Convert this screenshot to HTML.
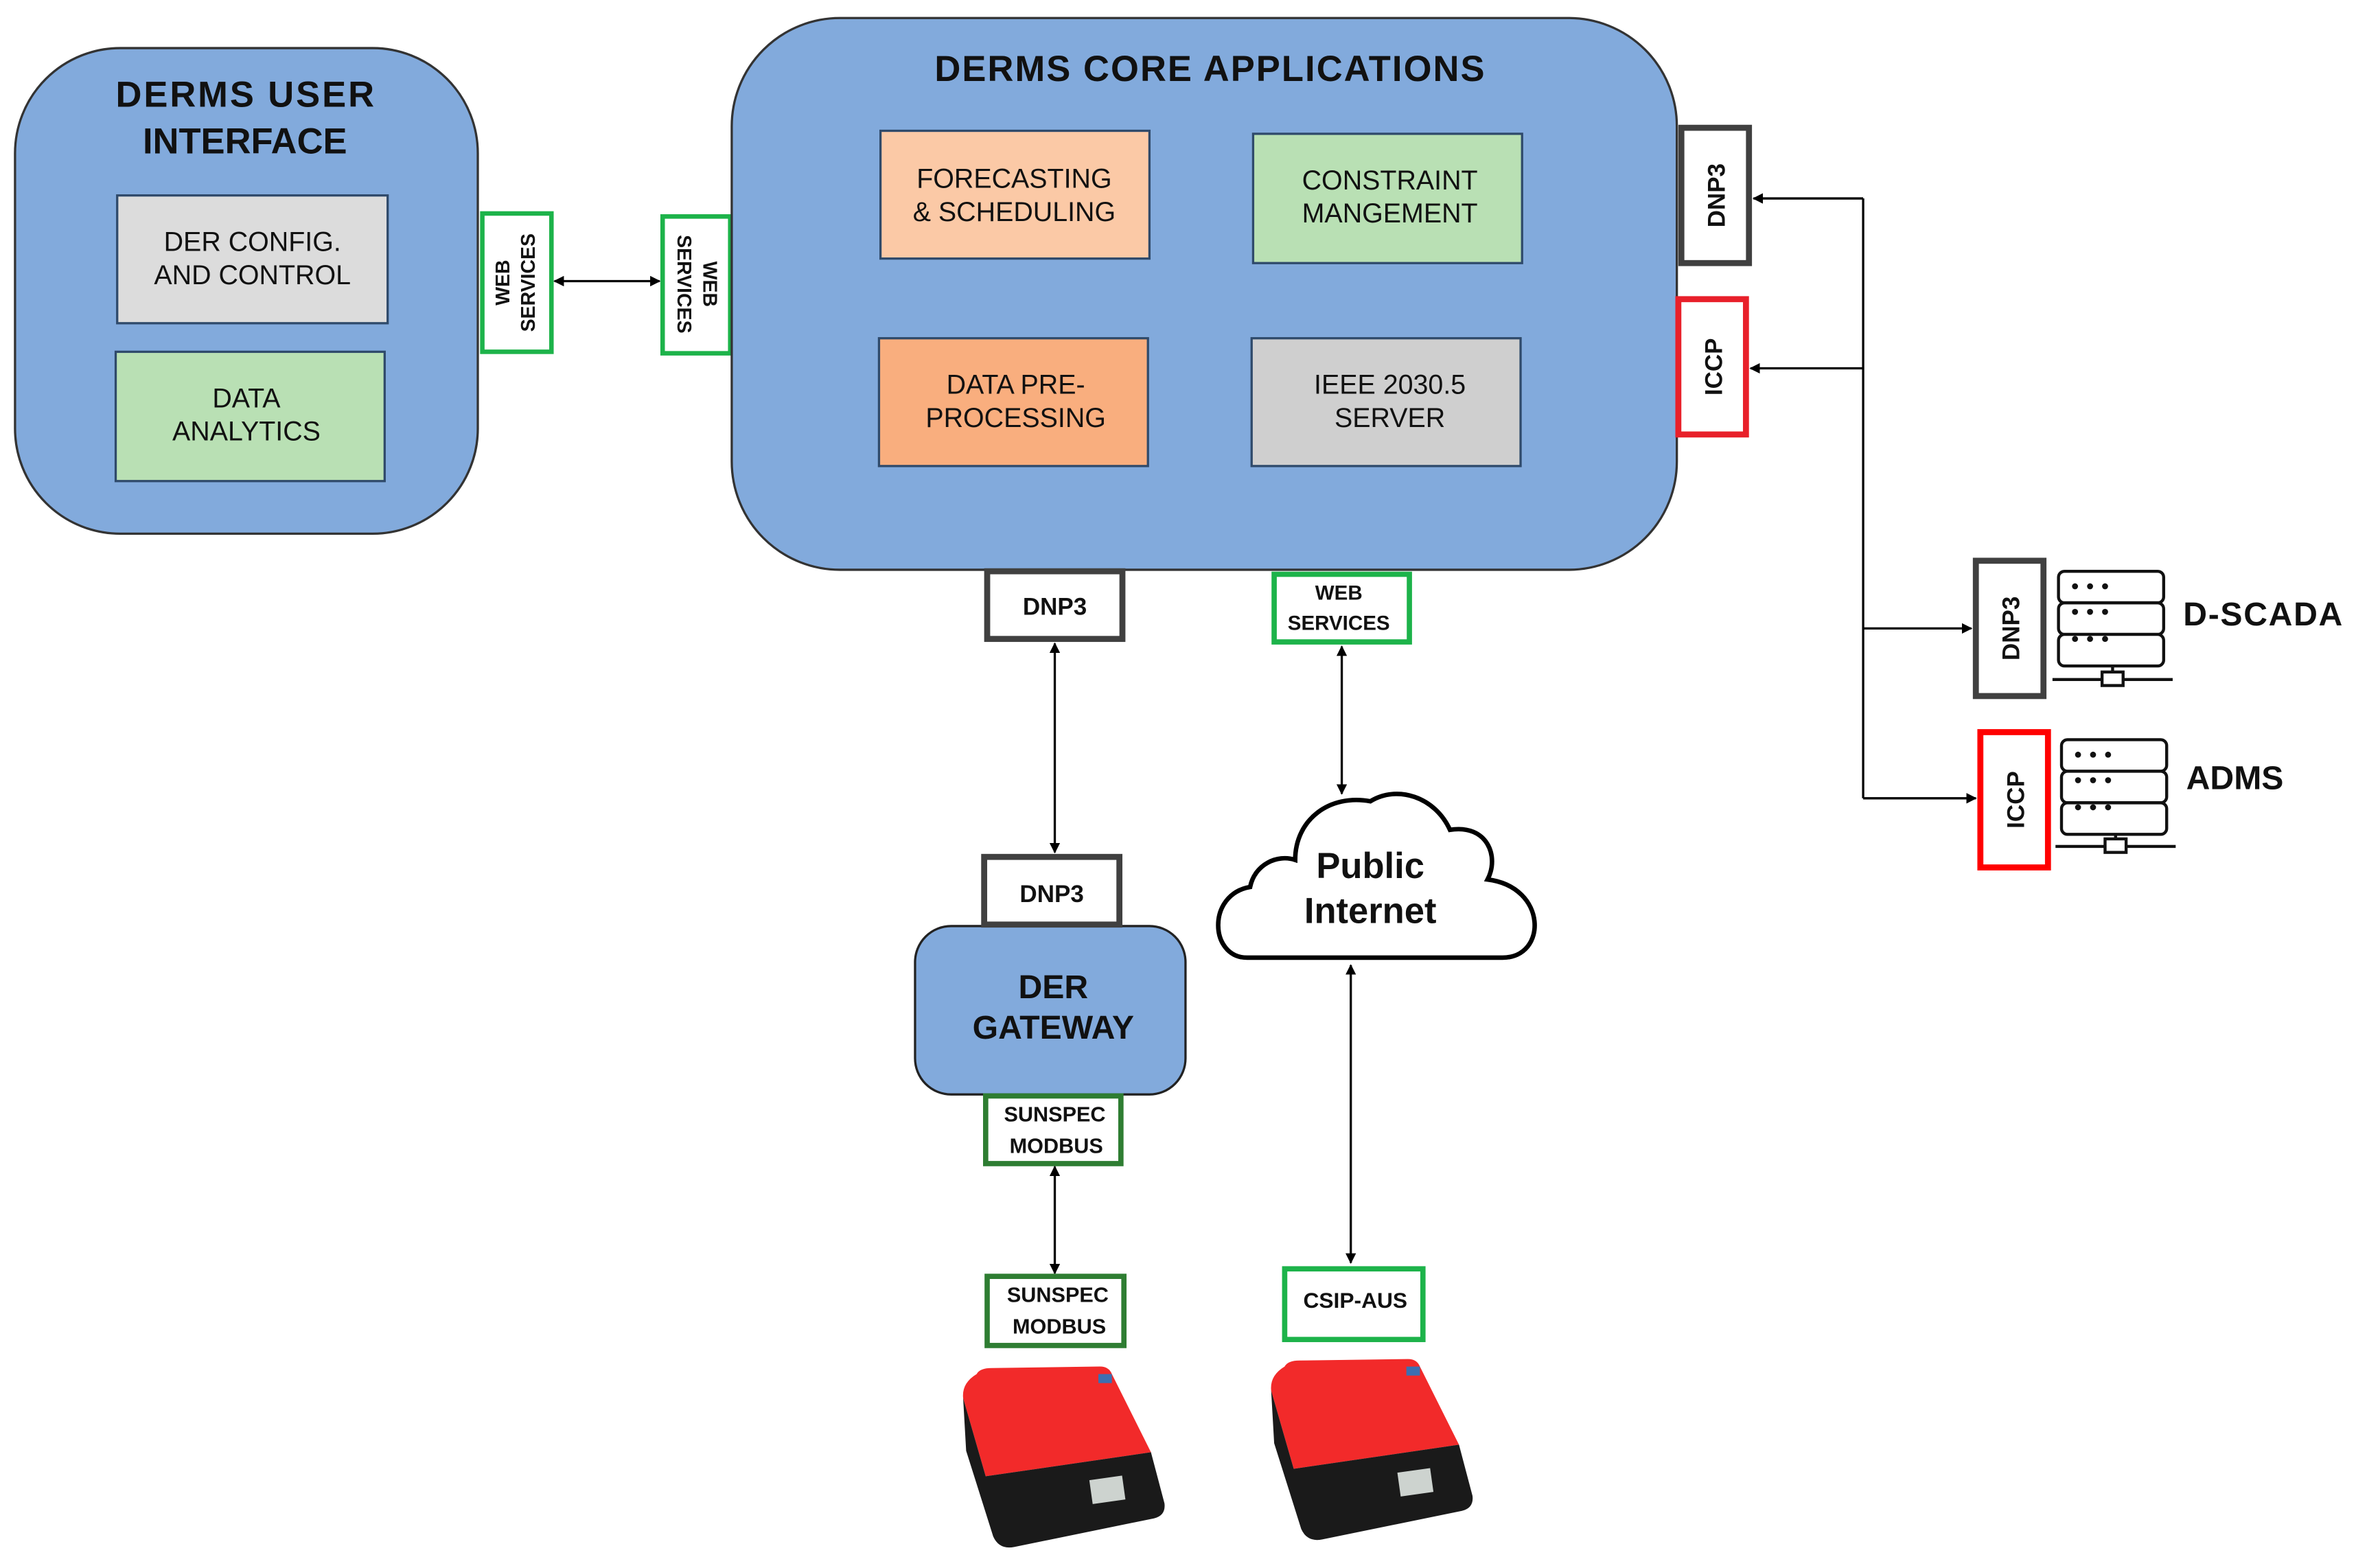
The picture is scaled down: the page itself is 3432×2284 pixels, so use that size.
<!DOCTYPE html>
<html><head><meta charset="utf-8"><style>
html,body{margin:0;padding:0;background:#fff;}
svg{display:block;}
text{font-family:"Liberation Sans",Arial,sans-serif;fill:#111;}
.b{font-weight:bold;}
</style></head><body>
<svg width="3432" height="2284" viewBox="0 0 1568 1043" preserveAspectRatio="none" xmlns="http://www.w3.org/2000/svg">
<defs>
<marker id="ah" viewBox="0 0 10 10" refX="9" refY="5" markerWidth="7" markerHeight="7" orient="auto-start-reverse" markerUnits="userSpaceOnUse"><path d="M0,0 L10,5 L0,10 z" fill="#000"/></marker>
</defs>
<rect x="0" y="0" width="1568" height="1043" fill="#fff"/>

<!-- DERMS UI -->
<rect x="10" y="32" width="308" height="323" rx="70" fill="#82aadc" stroke="#333" stroke-width="1.5"/>
<text class="b" x="163" y="71" font-size="24" text-anchor="middle" textLength="172">DERMS USER</text>
<text class="b" x="163" y="102" font-size="24" text-anchor="middle">INTERFACE</text>
<rect x="78" y="130" width="180" height="85" fill="#dcdcdc" stroke="#2f4a6b" stroke-width="1.5"/>
<text x="168" y="167" font-size="18" text-anchor="middle">DER CONFIG.</text>
<text x="168" y="189" font-size="18" text-anchor="middle">AND CONTROL</text>
<rect x="77" y="234" width="179" height="86" fill="#b9e0b4" stroke="#2f4a6b" stroke-width="1.5"/>
<text x="164" y="271" font-size="18" text-anchor="middle">DATA</text>
<text x="164" y="293" font-size="18" text-anchor="middle">ANALYTICS</text>

<!-- Web services left -->
<rect x="321" y="142" width="46" height="92" fill="#fff" stroke="#1db34a" stroke-width="3"/>
<g transform="translate(344,188) rotate(-90)">
<text class="b" x="0" y="-5" font-size="13" text-anchor="middle">WEB</text>
<text class="b" x="0" y="12" font-size="13" text-anchor="middle">SERVICES</text></g>
<rect x="441" y="144" width="45" height="91" fill="#fff" stroke="#1db34a" stroke-width="3"/>
<g transform="translate(463,189) rotate(90)">
<text class="b" x="0" y="-5" font-size="13" text-anchor="middle">WEB</text>
<text class="b" x="0" y="12" font-size="13" text-anchor="middle">SERVICES</text></g>
<line x1="369" y1="187" x2="439" y2="187" stroke="#000" stroke-width="1.5" marker-start="url(#ah)" marker-end="url(#ah)"/>

<!-- Core -->
<rect x="487" y="12" width="629" height="367" rx="72" fill="#82aadc" stroke="#333" stroke-width="1.5"/>
<text class="b" x="805" y="54" font-size="24" text-anchor="middle" textLength="366">DERMS CORE APPLICATIONS</text>
<rect x="586" y="87" width="179" height="85" fill="#fbc9a6" stroke="#2f4a6b" stroke-width="1.5"/>
<text x="675" y="125" font-size="18" text-anchor="middle">FORECASTING</text>
<text x="675" y="147" font-size="18" text-anchor="middle">&amp; SCHEDULING</text>
<rect x="834" y="89" width="179" height="86" fill="#b9e0b4" stroke="#2f4a6b" stroke-width="1.5"/>
<text x="925" y="126" font-size="18" text-anchor="middle">CONSTRAINT</text>
<text x="925" y="148" font-size="18" text-anchor="middle">MANGEMENT</text>
<rect x="585" y="225" width="179" height="85" fill="#f9ae7e" stroke="#2f4a6b" stroke-width="1.5"/>
<text x="676" y="262" font-size="18" text-anchor="middle">DATA PRE-</text>
<text x="676" y="284" font-size="18" text-anchor="middle">PROCESSING</text>
<rect x="833" y="225" width="179" height="85" fill="#cfcfcf" stroke="#2f4a6b" stroke-width="1.5"/>
<text x="925" y="262" font-size="18" text-anchor="middle">IEEE 2030.5</text>
<text x="925" y="284" font-size="18" text-anchor="middle">SERVER</text>

<!-- right side protocol boxes -->
<rect x="1119" y="85" width="45" height="90" fill="#fff" stroke="#404040" stroke-width="4"/>
<text class="b" transform="translate(1148,130) rotate(-90)" font-size="16" text-anchor="middle">DNP3</text>
<rect x="1117" y="199" width="45" height="90" fill="#fff" stroke="#e8202a" stroke-width="4"/>
<text class="b" transform="translate(1146,244) rotate(-90)" font-size="16" text-anchor="middle">ICCP</text>

<polyline points="1240,132 1240,531" fill="none" stroke="#000" stroke-width="1.5"/>
<line x1="1240" y1="132" x2="1167" y2="132" stroke="#000" stroke-width="1.5" marker-end="url(#ah)"/>
<line x1="1240" y1="245" x2="1165" y2="245" stroke="#000" stroke-width="1.5" marker-end="url(#ah)"/>
<line x1="1240" y1="418" x2="1312" y2="418" stroke="#000" stroke-width="1.5" marker-end="url(#ah)"/>
<line x1="1240" y1="531" x2="1315" y2="531" stroke="#000" stroke-width="1.5" marker-end="url(#ah)"/>

<rect x="1315" y="373" width="45" height="90" fill="#fff" stroke="#404040" stroke-width="4"/>
<text class="b" transform="translate(1344,418) rotate(-90)" font-size="16" text-anchor="middle">DNP3</text>
<rect x="1318" y="487" width="45" height="90" fill="#fff" stroke="#ff0000" stroke-width="4"/>
<text class="b" transform="translate(1347,532) rotate(-90)" font-size="16" text-anchor="middle">ICCP</text>

<!-- servers -->
<g fill="#fff" stroke="#111" stroke-width="2">
<rect x="1370" y="380" width="70" height="21" rx="4"/><rect x="1370" y="401" width="70" height="21" rx="4"/><rect x="1370" y="422" width="70" height="21" rx="4"/>
<line x1="1406" y1="443" x2="1406" y2="449"/><line x1="1366" y1="452" x2="1446" y2="452"/><rect x="1399" y="447" width="14" height="9"/>
<rect x="1372" y="492" width="70" height="21" rx="4"/><rect x="1372" y="513" width="70" height="21" rx="4"/><rect x="1372" y="534" width="70" height="21" rx="4"/>
<line x1="1408" y1="555" x2="1408" y2="561"/><line x1="1368" y1="563" x2="1448" y2="563"/><rect x="1401" y="558" width="14" height="9"/>
</g>
<g fill="#111">
<circle cx="1381" cy="390" r="2"/><circle cx="1391" cy="390" r="2"/><circle cx="1401" cy="390" r="2"/>
<circle cx="1381" cy="407" r="2"/><circle cx="1391" cy="407" r="2"/><circle cx="1401" cy="407" r="2"/>
<circle cx="1381" cy="425" r="2"/><circle cx="1391" cy="425" r="2"/><circle cx="1401" cy="425" r="2"/>
<circle cx="1383" cy="502" r="2"/><circle cx="1393" cy="502" r="2"/><circle cx="1403" cy="502" r="2"/>
<circle cx="1383" cy="519" r="2"/><circle cx="1393" cy="519" r="2"/><circle cx="1403" cy="519" r="2"/>
<circle cx="1383" cy="537" r="2"/><circle cx="1393" cy="537" r="2"/><circle cx="1403" cy="537" r="2"/>
</g>
<text class="b" x="1453" y="416" font-size="22" textLength="106">D-SCADA</text>
<text class="b" x="1455" y="525" font-size="22">ADMS</text>

<!-- bottom of core -->
<rect x="657" y="380" width="90" height="45" fill="#fff" stroke="#404040" stroke-width="4"/>
<text class="b" x="702" y="409" font-size="16" text-anchor="middle">DNP3</text>
<rect x="848" y="382" width="90" height="45" fill="#fff" stroke="#1db34a" stroke-width="3.5"/>
<text class="b" x="891" y="399" font-size="13.5" text-anchor="middle">WEB</text>
<text class="b" x="891" y="419" font-size="13.5" text-anchor="middle">SERVICES</text>
<line x1="702" y1="428" x2="702" y2="567" stroke="#000" stroke-width="1.5" marker-start="url(#ah)" marker-end="url(#ah)"/>
<line x1="893" y1="430" x2="893" y2="528" stroke="#000" stroke-width="1.5" marker-start="url(#ah)" marker-end="url(#ah)"/>

<!-- DER gateway -->
<rect x="609" y="616" width="180" height="112" rx="24" fill="#82aadc" stroke="#222" stroke-width="1.5"/>
<rect x="655" y="570" width="90" height="45" fill="#fff" stroke="#404040" stroke-width="4"/>
<text class="b" x="700" y="600" font-size="16" text-anchor="middle">DNP3</text>
<text class="b" x="701" y="664" font-size="22" text-anchor="middle">DER</text>
<text class="b" x="701" y="691" font-size="22" text-anchor="middle">GATEWAY</text>
<rect x="656" y="729" width="90" height="45" fill="#fff" stroke="#2e7d32" stroke-width="3.5"/>
<text class="b" x="702" y="746" font-size="14" text-anchor="middle">SUNSPEC</text>
<text class="b" x="703" y="767" font-size="14" text-anchor="middle">MODBUS</text>
<line x1="702" y1="776" x2="702" y2="847" stroke="#000" stroke-width="1.5" marker-start="url(#ah)" marker-end="url(#ah)"/>
<rect x="657" y="849" width="91" height="46" fill="#fff" stroke="#2e7d32" stroke-width="3.5"/>
<text class="b" x="704" y="866" font-size="14" text-anchor="middle">SUNSPEC</text>
<text class="b" x="705" y="887" font-size="14" text-anchor="middle">MODBUS</text>

<!-- cloud -->
<path d="M830,637 C805,637 803,595 832,590 C835,575 850,568 862,572 C862,545 885,528 912,533 C930,522 955,530 965,552 C990,548 998,570 990,585 C1030,590 1030,637 1000,637 Z" fill="#fff" stroke="#000" stroke-width="3"/>
<text class="b" x="912" y="584" font-size="24" text-anchor="middle">Public</text>
<text class="b" x="912" y="614" font-size="24" text-anchor="middle">Internet</text>
<line x1="899" y1="642" x2="899" y2="840" stroke="#000" stroke-width="1.5" marker-start="url(#ah)" marker-end="url(#ah)"/>
<rect x="855" y="844" width="92" height="47" fill="#fff" stroke="#1db34a" stroke-width="3.5"/>
<text class="b" x="902" y="870" font-size="14.5" text-anchor="middle">CSIP-AUS</text>

<!-- inverters -->
<g>
<path d="M650,914 Q652,910 660,910 L732,909 Q738,909 740,914 L766,966 L656,982 L641,930 Q640,920 650,914 Z" fill="#f22a2a"/>
<path d="M641,930 L656,982 L766,966 L775,1000 Q776,1008 768,1010 L675,1029 Q665,1031 661,1022 L643,965 Z" fill="#1a1a1a"/>
<rect x="726" y="983" width="22" height="16" fill="#cdd3cf" transform="rotate(-8 737 991)"/>
<rect x="731" y="914" width="9" height="6" fill="#3d6fb0"/>
</g>
<g>
<path d="M855,909 Q857,905 865,905 L937,904 Q943,904 945,909 L971,961 L861,977 L846,925 Q845,915 855,909 Z" fill="#f22a2a"/>
<path d="M846,925 L861,977 L971,961 L980,995 Q981,1003 973,1005 L880,1024 Q870,1026 866,1017 L848,960 Z" fill="#1a1a1a"/>
<rect x="931" y="978" width="22" height="16" fill="#cdd3cf" transform="rotate(-8 942 986)"/>
<rect x="936" y="909" width="9" height="6" fill="#3d6fb0"/>
</g>
</svg>
</body></html>
